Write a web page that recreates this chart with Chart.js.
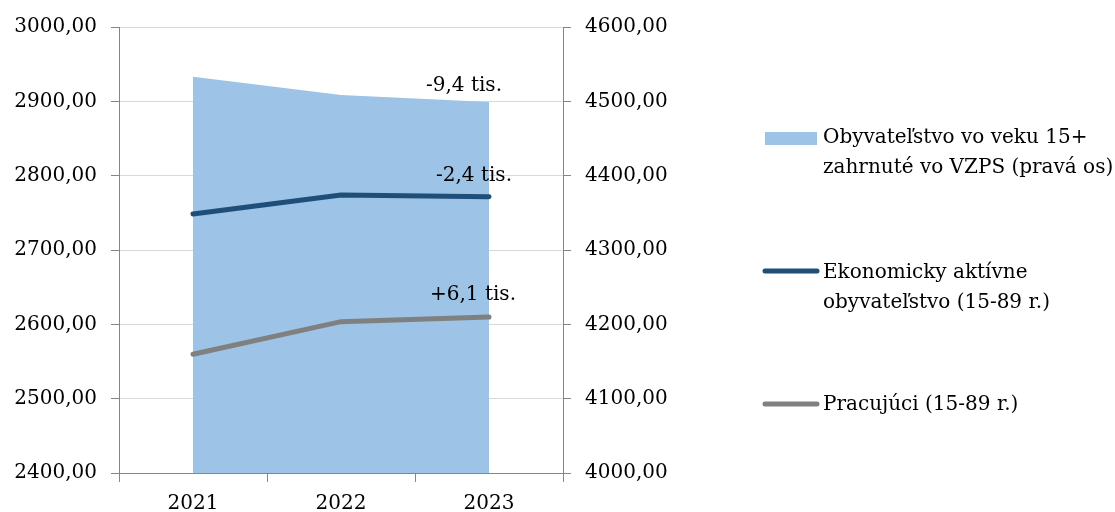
<!DOCTYPE html>
<html>
<head>
<meta charset="utf-8">
<script src="https://cdn.jsdelivr.net/npm/chart.js@4.4.1/dist/chart.umd.min.js"></script>
<style>
  html, body { margin: 0; padding: 0; background: #ffffff; }
  #wrap { width: 1115px; height: 512px; position: relative; }
</style>
</head>
<body>
<div id="wrap"><canvas id="c" width="1115" height="512"></canvas></div>
<script>
const categories = ['2021', '2022', '2023'];
const population15 = [4533.1, 4508.5, 4499.1];   // right axis
const economicallyActive = [2748.4, 2774.0, 2771.6]; // left axis
const employed = [2559.7, 2603.6, 2609.7];           // left axis
const seriesNames = [
  ['Obyvateľstvo vo veku 15+', 'zahrnuté vo VZPS (pravá os)'],
  ['Ekonomicky aktívne', 'obyvateľstvo (15-89 r.)'],
  ['Pracujúci (15-89 r.)']
];
const changeLabels = ['-9,4 tis.', '-2,4 tis.', '+6,1 tis.'];
const leftTickRange = [2400, 3000, 100];
const rightTickRange = [4000, 4600, 100];

const FONT = "'DejaVu Serif', 'Liberation Serif', serif";
const FS = 20;
const AXIS = '#868686';
const GRID = '#d9d9d9';
const fmt = v => Number(v).toFixed(2).replace('.', ',');

const changeLabelPlugin = {
  id: 'changeLabels',
  afterDatasetsDraw(chart) {
    const ctx = chart.ctx;
    ctx.save();
    ctx.font = FS + 'px ' + FONT;
    ctx.fillStyle = '#000';
    ctx.textAlign = 'center';
    ctx.textBaseline = 'middle';
    const offs = [[-25, -16], [-15, -21], [-16, -22]];
    chart.data.datasets.forEach((ds, i) => {
      const meta = chart.getDatasetMeta(i);
      const pt = meta.data[meta.data.length - 1];
      ctx.fillText(changeLabels[i], pt.x + offs[i][0], pt.y + offs[i][1]);
    });
    ctx.restore();
  }
};

const legendPlugin = {
  id: 'sideLegend',
  afterDraw(chart) {
    const ctx = chart.ctx;
    ctx.save();
    ctx.font = FS + 'px ' + FONT;
    ctx.fillStyle = '#000';
    ctx.textAlign = 'left';
    ctx.textBaseline = 'middle';
    const x0 = 765, x1 = 817, tx = 823;
    const items = [
      { y: 138, lines: [138, 168] },
      { y: 271, lines: [273, 303] },
      { y: 404, lines: [405] }
    ];
    chart.data.datasets.forEach((ds, i) => {
      const it = items[i];
      if (i === 0) {
        ctx.fillStyle = ds.backgroundColor;
        ctx.fillRect(x0, it.y - 6, x1 - x0, 13);
      } else {
        ctx.strokeStyle = ds.borderColor;
        ctx.lineWidth = 5;
        ctx.lineCap = 'round';
        ctx.beginPath();
        ctx.moveTo(x0, it.y);
        ctx.lineTo(x1, it.y);
        ctx.stroke();
      }
      ctx.fillStyle = '#000';
      seriesNames[i].forEach((line, k) => ctx.fillText(line, tx, it.lines[k]));
    });
    ctx.restore();
  }
};

new Chart(document.getElementById('c'), {
  type: 'line',
  data: {
    labels: categories,
    datasets: [
      {
        label: seriesNames[0].join(' '),
        data: population15,
        yAxisID: 'yR',
        fill: 'start',
        backgroundColor: '#9dc3e6',
        borderColor: '#9dc3e6',
        borderWidth: 0,
        pointRadius: 0,
        tension: 0,
        order: 3
      },
      {
        label: seriesNames[1].join(' '),
        data: economicallyActive,
        yAxisID: 'yL',
        fill: false,
        borderColor: '#1f4e79',
        backgroundColor: '#1f4e79',
        borderWidth: 5,
        borderCapStyle: 'round',
        pointRadius: 0,
        tension: 0,
        order: 1
      },
      {
        label: seriesNames[2].join(' '),
        data: employed,
        yAxisID: 'yL',
        fill: false,
        borderColor: '#808080',
        backgroundColor: '#808080',
        borderWidth: 5,
        borderCapStyle: 'round',
        pointRadius: 0,
        tension: 0,
        order: 2
      }
    ]
  },
  options: {
    responsive: false,
    animation: false,
    layout: { padding: { top: 27, right: 432, bottom: 0, left: 0 } },
    plugins: { legend: { display: false }, tooltip: { enabled: false } },
    scales: {
      x: {
        offset: true,
        grid: { display: true, drawOnChartArea: false, offset: true, tickLength: 9, tickColor: AXIS },
        border: { color: AXIS },
        ticks: { color: '#000', font: { family: FONT, size: FS }, padding: 10 },
        afterFit(s) { s.height = 39; }
      },
      yL: {
        position: 'left',
        min: leftTickRange[0], max: leftTickRange[1],
        ticks: { stepSize: leftTickRange[2], color: '#000', font: { family: FONT, size: FS }, padding: 14, callback: fmt },
        grid: { color: GRID, tickColor: AXIS, tickLength: 8 },
        border: { color: AXIS },
        afterFit(s) { s.width = 119; }
      },
      yR: {
        position: 'right',
        min: rightTickRange[0], max: rightTickRange[1],
        ticks: { stepSize: rightTickRange[2], color: '#000', font: { family: FONT, size: FS }, padding: 14, callback: fmt },
        grid: { drawOnChartArea: false, tickColor: AXIS, tickLength: 8 },
        border: { color: AXIS },
        afterFit(s) { s.width = 120; }
      }
    }
  },
  plugins: [changeLabelPlugin, legendPlugin]
});
</script>
</body>
</html>
